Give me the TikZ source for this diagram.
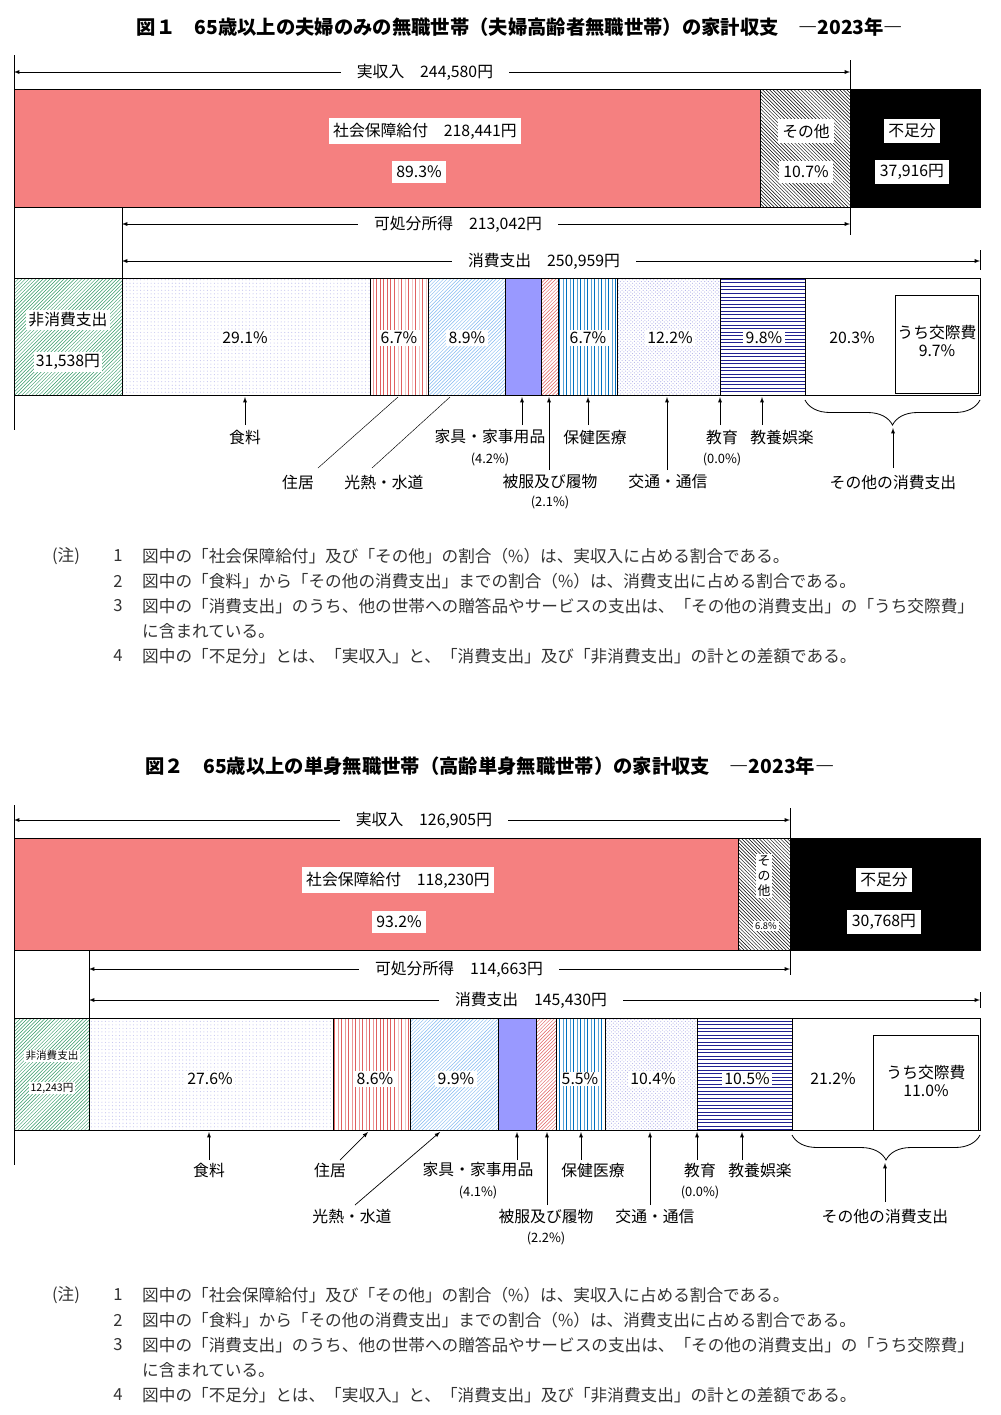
\documentclass[tikz,border=0pt]{standalone}
\usepackage{fontspec}
\setmainfont{Noto Sans CJK JP}
\usetikzlibrary{patterns,decorations.pathreplacing}
\definecolor{benefitred}{HTML}{F58080}
\definecolor{housepink}{HTML}{E06060}
\definecolor{lightblue}{HTML}{80B8F0}
\definecolor{furnpurple}{HTML}{9999FF}
\definecolor{stripeblue}{HTML}{0070C0}
\definecolor{dotlav}{HTML}{9090E0}
\definecolor{navyline}{HTML}{202090}
\definecolor{taxgreen}{HTML}{339966}
\newcommand{\lblfont}{\fontsize{13.5}{16}\selectfont}
\newcommand{\smlfont}{\fontsize{11}{13}\selectfont}
\newcommand{\segment}[6]{
    % Bar Segment
    % \segment{name}{x left}{x right}{y top}{y bottom}{style}
    % node endings: S: bottom centre
    \path[bar,#6] (#2,#4) rectangle (#3,#5);
    \coordinate (#1) at ({(#2+#3)/2},{(#4+#5)/2});
    \coordinate (#1S) at ({(#2+#3)/2},#5);
}
\newcommand{\notes}[1]{
    % Notes Block
    % \notes{y of first line}
    \begin{scope}[yshift=#1*-0.3mm]
    \node (noteHead) [note] at (66,0) {(注)};
    \node [note,anchor=center] at (118,0) {1};
    \node [note,anchor=west] at (142,0) {図中の「社会保障給付」及び「その他」の割合（\%）は、実収入に占める割合である。};
    \node [note,anchor=center] at (118,25) {2};
    \node [note,anchor=west] at (142,25) {図中の「食料」から「その他の消費支出」までの割合（\%）は、消費支出に占める割合である。};
    \node [note,anchor=center] at (118,50) {3};
    \node [note,anchor=west] at (142,50) {図中の「消費支出」のうち、他の世帯への贈答品やサービスの支出は、「その他の消費支出」の「うち交際費」};
    \node [note,anchor=west] at (142,75) {に含まれている。};
    \node [note,anchor=center] at (118,100) {4};
    \node [note,anchor=west] at (142,100) {図中の「不足分」とは、「実収入」と、「消費支出」及び「非消費支出」の計との差額である。};
    \end{scope}
}
\tikzset{
    bar/.style={draw=black,line width=0.7pt},
    lbl/.style={fill=white,inner sep=4pt,font=\lblfont},
    spanlbl/.style={fill=white,inner xsep=14pt,inner ysep=2pt,font=\lblfont},
    txt/.style={inner sep=1pt,font=\lblfont},
    sml/.style={inner sep=1pt,font=\smlfont},
    note/.style={inner sep=0pt,font=\fontsize{14.2}{16}\selectfont,text=black!80},
    ttl/.style={font=\fontsize{16.5}{20}\selectfont\bfseries},
    span/.style={latex-latex,line width=0.6pt},
    up/.style={-latex,line width=0.6pt},
}
\begin{document}
\begin{tikzpicture}[x=0.3mm,y=-0.3mm]
  \useasboundingbox (0,0) rectangle (1000,1415);
  % ---------- figure 1
  \node (titleOne) [ttl] at (520,27) {図１　65歳以上の夫婦のみの無職世帯（夫婦高齢者無職世帯）の家計収支　―2023年―};
  \draw (14,55) -- (14,430);
  \draw (850,60) -- (850,235) (122,207) -- (122,278) (980,250) -- (980,270);
  \coordinate (incL) at (14,72); \coordinate (incR) at (850,72);
  \draw[span] (incL) -- (incR);
  \node (incLabel) [spanlbl] at (425,72) {実収入　244,580円};
  \segment{benefit}{14}{760}{89}{207}{fill=benefitred}
  \segment{other}{760}{850}{89}{207}{pattern=north west lines}
  \segment{short}{850}{980}{89}{207}{fill=black}
  \node [lbl] at (425,131) {社会保障給付　218,441円};
  \node [lbl] at (419,172) {89.3\%};
  \node [lbl] at (806,131) {その他};
  \node [lbl] at (806,172) {10.7\%};
  \node [lbl] at (912,131) {不足分};
  \node [lbl] at (912,172) {37,916円};
  \coordinate (dispL) at (122,224); \coordinate (dispR) at (850,224);
  \draw[span] (dispL) -- (dispR);
  \node [spanlbl] at (458,224) {可処分所得　213,042円};
  \coordinate (consL) at (122,261); \coordinate (consR) at (980,261);
  \draw[span] (consL) -- (consR);
  \node [spanlbl] at (544,261) {消費支出　250,959円};
  \segment{tax}{14}{122}{278}{395}{pattern=north east lines,pattern color=taxgreen}
  \segment{food}{122}{370}{278}{395}{pattern=dots,pattern color=dotlav!50}
  \segment{house}{370}{428}{278}{395}{pattern=vertical lines,pattern color=housepink}
  \segment{fuel}{428}{505}{278}{395}{pattern=north east lines,pattern color=lightblue}
  \segment{furn}{505}{541}{278}{395}{fill=furnpurple}
  \segment{cloth}{541}{558}{278}{395}{pattern=north east lines,pattern color=housepink}
  \segment{medic}{558}{617}{278}{395}{pattern=vertical lines,pattern color=stripeblue}
  \segment{trans}{617}{720}{278}{395}{pattern=crosshatch dots,pattern color=dotlav!70}
  \segment{recr}{720}{805}{278}{395}{pattern=horizontal lines,pattern color=navyline}
  \segment{misc}{805}{980}{278}{395}{fill=white}
  \path[bar,fill=white] (895,295) rectangle (978,393);
  \node [lbl,inner sep=2pt] at (68,320) {非消費支出};
  \node [lbl,inner sep=2pt] at (68,362) {31,538円};
  \node [lbl,inner sep=2pt] at (245,338) {29.1\%};
  \node [lbl,inner sep=2pt] at (399,338) {6.7\%};
  \node [lbl,inner sep=2pt] at (467,338) {8.9\%};
  \node [lbl,inner sep=2pt] at (588,338) {6.7\%};
  \node [lbl,inner sep=2pt] at (670,338) {12.2\%};
  \node [lbl,inner sep=2pt] at (764,338) {9.8\%};
  \node [lbl,inner sep=2pt] at (852,338) {20.3\%};
  \node [txt,align=center] at (937,341) {うち交際費\\9.7\%};
  \draw[decorate,decoration={brace,amplitude=7.5mm,mirror},line width=0.7pt] (805,400) -- (980,400);
  \node (lFood) [txt] at (245,437) {食料};
  \draw[up] (245,425) -- (245,397);
  \node (lHouse) [txt] at (298,482) {住居};
  \draw (318,468) -- (398,397);
  \node (lFuel) [txt] at (384,482) {光熱・水道};
  \draw (372,468) -- (450,397);
  \node (lFurn) [txt] at (490,437) {家具・家事用品};
  \node [sml] at (490,459) {(4.2\%)};
  \draw[up] (522,425) -- (522,397);
  \node (lCloth) [txt] at (550,482) {被服及び履物};
  \node [sml] at (550,502) {(2.1\%)};
  \draw[up] (549,470) -- (549,397);
  \node (lMedic) [txt] at (595,437) {保健医療};
  \draw[up] (588,425) -- (588,397);
  \node (lTrans) [txt] at (668,482) {交通・通信};
  \draw[up] (667,470) -- (667,397);
  \node (lEdu) [txt] at (722,437) {教育};
  \node [sml] at (722,459) {(0.0\%)};
  \draw[up] (720,425) -- (720,397);
  \node (lRecr) [txt] at (782,437) {教養娯楽};
  \draw[up] (762,425) -- (762,397);
  \node (lMisc) [txt] at (893,482) {その他の消費支出};
  \draw[up] (893,468) -- (893,428);
  \notes{556}
  % ---------- figure 2
  \node (titleTwo) [ttl] at (490,766) {図２　65歳以上の単身無職世帯（高齢単身無職世帯）の家計収支　―2023年―};
  \draw (14,805) -- (14,1165);
  \draw (790,808) -- (790,975) (89,950) -- (89,1018) (980,992) -- (980,1008);
  \coordinate (incLt) at (14,820); \coordinate (incRt) at (790,820);
  \draw[span] (incLt) -- (incRt);
  \node [spanlbl] at (424,820) {実収入　126,905円};
  \segment{benefitT}{14}{738}{838}{950}{fill=benefitred}
  \segment{otherT}{738}{790}{838}{950}{pattern=north west lines}
  \segment{shortT}{790}{980}{838}{950}{fill=black}
  \node [lbl] at (398,880) {社会保障給付　118,230円};
  \node [lbl] at (399,922) {93.2\%};
  \node [lbl,align=center,font=\smlfont,inner sep=1pt] at (764,876) {そ\\の\\他};
  \node [lbl,font=\fontsize{8}{9}\selectfont,inner sep=1.5pt] at (766,926) {6.8\%};
  \node [lbl] at (884,880) {不足分};
  \node [lbl] at (884,922) {30,768円};
  \coordinate (dispLt) at (89,969); \coordinate (dispRt) at (790,969);
  \draw[span] (dispLt) -- (dispRt);
  \node [spanlbl] at (459,969) {可処分所得　114,663円};
  \coordinate (consLt) at (89,1000); \coordinate (consRt) at (980,1000);
  \draw[span] (consLt) -- (consRt);
  \node [spanlbl] at (531,1000) {消費支出　145,430円};
  \segment{taxT}{14}{89}{1018}{1130}{pattern=north east lines,pattern color=taxgreen}
  \segment{foodT}{89}{333}{1018}{1130}{pattern=dots,pattern color=dotlav!50}
  \segment{houseT}{333}{410}{1018}{1130}{pattern=vertical lines,pattern color=housepink}
  \segment{fuelT}{410}{498}{1018}{1130}{pattern=north east lines,pattern color=lightblue}
  \segment{furnT}{498}{536}{1018}{1130}{fill=furnpurple}
  \segment{clothT}{536}{556}{1018}{1130}{pattern=north east lines,pattern color=housepink}
  \segment{medicT}{556}{605}{1018}{1130}{pattern=vertical lines,pattern color=stripeblue}
  \segment{transT}{605}{697}{1018}{1130}{pattern=crosshatch dots,pattern color=dotlav!70}
  \segment{recrT}{697}{792}{1018}{1130}{pattern=horizontal lines,pattern color=navyline}
  \segment{miscT}{792}{980}{1018}{1130}{fill=white}
  \path[bar,fill=white] (873,1035) rectangle (978,1130);
  \node [lbl,font=\fontsize{9}{11}\selectfont,inner sep=1pt] at (52,1056) {非消費支出};
  \node [lbl,font=\fontsize{9}{11}\selectfont,inner sep=1pt] at (52,1088) {12,243円};
  \node [lbl,inner sep=2pt] at (210,1079) {27.6\%};
  \node [lbl,inner sep=2pt] at (375,1079) {8.6\%};
  \node [lbl,inner sep=2pt] at (456,1079) {9.9\%};
  \node [lbl,inner sep=1pt] at (580,1079) {5.5\%};
  \node [lbl,inner sep=2pt] at (653,1079) {10.4\%};
  \node [lbl,inner sep=2pt] at (747,1079) {10.5\%};
  \node [lbl,inner sep=2pt] at (833,1079) {21.2\%};
  \node [txt,align=center] at (926,1081) {うち交際費\\11.0\%};
  \draw[decorate,decoration={brace,amplitude=7.5mm,mirror},line width=0.7pt] (792,1135) -- (980,1135);
  \node [txt] at (209,1170) {食料};
  \draw[up] (209,1160) -- (209,1132);
  \node [txt] at (330,1170) {住居};
  \draw[up] (340,1160) -- (368,1132);
  \node [txt] at (352,1216) {光熱・水道};
  \draw[up] (355,1205) -- (440,1132);
  \node [txt] at (478,1170) {家具・家事用品};
  \node [sml] at (478,1192) {(4.1\%)};
  \draw[up] (517,1160) -- (517,1132);
  \node [txt] at (546,1216) {被服及び履物};
  \node [sml] at (546,1238) {(2.2\%)};
  \draw[up] (547,1205) -- (547,1132);
  \node [txt] at (593,1170) {保健医療};
  \draw[up] (581,1160) -- (581,1132);
  \node [txt] at (655,1216) {交通・通信};
  \draw[up] (650,1205) -- (650,1132);
  \node [txt] at (700,1170) {教育};
  \node [sml] at (700,1192) {(0.0\%)};
  \draw[up] (697,1160) -- (697,1132);
  \node [txt] at (760,1170) {教養娯楽};
  \draw[up] (742,1160) -- (742,1132);
  \node [txt] at (885,1216) {その他の消費支出};
  \draw[up] (885,1202) -- (885,1163);
  \notes{1295}
\end{tikzpicture}
\end{document}
